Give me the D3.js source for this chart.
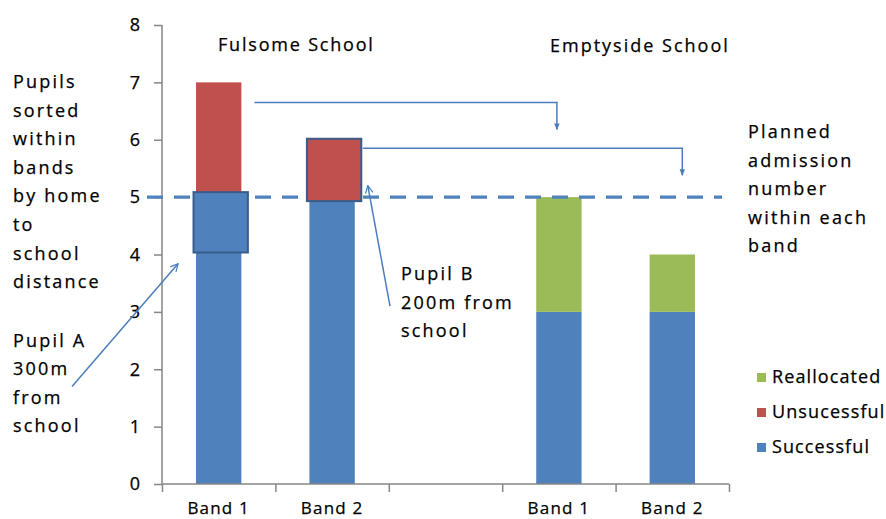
<!DOCTYPE html>
<html>
<head>
<meta charset="utf-8">
<script src="https://cdn.jsdelivr.net/npm/d3@7"></script>
<style>
  html, body { margin: 0; padding: 0; background: #fff; }
  svg { display: block; }
  text { font-family: "Open Sans", Lato, sans-serif; fill: #000; stroke: #000; stroke-width: 0.25px; }
</style>
</head>
<body>
<svg id="chart" width="886" height="519"></svg>
<script>
// Admission bands for the two schools (blank slot separates the schools)
const categoryIds    = ["f1", "f2", "gap", "e1", "e2"];
const categoryLabels = ["Band 1", "Band 2", "", "Band 1", "Band 2"];
const successful     = [5, 5, 0, 3, 3];
const unsuccessful   = [2, 1, 0, 0, 0];
const reallocated    = [0, 0, 0, 2, 1];
const seriesNames    = ["Successful", "Unsucessful", "Reallocated"];
const seriesColors   = ["#4f81bd", "#c0504d", "#9bbb59"];
const yTicks         = [0, 1, 2, 3, 4, 5, 6, 7, 8];
const admissionLimit = 5;
const schoolNames    = ["Fulsome School", "Emptyside School"];

// Highlighted pupils: category index and the slot they occupy in the stack
const pupilA = { cat: 0, from: 4, to: 5 };
const pupilB = { cat: 1, from: 5, to: 6 };
// Where each unsuccessful band is offered a place at the other school
const transfers = [
  { from: 0, to: 3, level: 6.65 },
  { from: 1, to: 4, level: 5.85 }
];

const svg = d3.select("#chart");
const plotLeft = 162, plotRight = 729, plotTop = 25, plotBottom = 484;

const x = d3.scaleBand().domain(categoryIds).range([plotLeft, plotRight])
  .paddingInner(0.6).paddingOuter(0.3);
const y = d3.scaleLinear().domain([0, 8]).range([plotBottom, plotTop]);
const boundary = d3.scaleLinear().domain([0, categoryIds.length]).range([plotLeft, plotRight]);

const defs = svg.append("defs");
defs.append("marker").attr("id", "head").attr("viewBox", "0 0 10 10")
  .attr("refX", 9).attr("refY", 5).attr("markerWidth", 4.5).attr("markerHeight", 4.5)
  .attr("orient", "auto-start-reverse")
  .append("path").attr("d", "M0,1 L10,5 L0,9 Z").attr("fill", "#4a7ebb");
defs.append("marker").attr("id", "vhead").attr("viewBox", "0 0 12 12")
  .attr("refX", 11).attr("refY", 6).attr("markerWidth", 6).attr("markerHeight", 6)
  .attr("orient", "auto")
  .append("path").attr("d", "M1,1 L11,6 L1,11").attr("fill", "none")
  .attr("stroke", "#4a7ebb").attr("stroke-width", 1.6);

// Stacked bars
const rows = categoryIds.map((id, i) => ({
  id, Successful: successful[i], Unsucessful: unsuccessful[i], Reallocated: reallocated[i]
}));
const stack = d3.stack().keys(seriesNames)(rows);
svg.append("g").selectAll("g").data(stack).join("g")
  .attr("fill", (d, i) => seriesColors[i])
  .selectAll("rect").data(d => d.filter(p => p[1] > p[0])).join("rect")
  .attr("x", d => x(d.data.id))
  .attr("y", d => y(d[1]))
  .attr("width", x.bandwidth())
  .attr("height", d => y(d[0]) - y(d[1]));

// Axes
const axisColor = "#868686";
const yAxis = svg.append("g").attr("transform", `translate(${plotLeft},0)`)
  .call(d3.axisLeft(y).tickValues(yTicks).tickSize(8).tickPadding(14).tickFormat(d3.format("d")));
const xAxis = svg.append("g").attr("transform", `translate(0,${plotBottom})`)
  .call(d3.axisBottom(boundary).ticks(categoryIds.length).tickSize(8).tickFormat(""));
[yAxis, xAxis].forEach(g => {
  g.select(".domain").attr("stroke", axisColor).attr("stroke-width", 1.5);
  g.selectAll(".tick line").attr("stroke", axisColor).attr("stroke-width", 1.5);
});
yAxis.select(".domain").attr("d", `M0,${plotBottom}V${plotTop}`);
xAxis.select(".domain").attr("d", `M${plotLeft},0H${plotRight}`);
yAxis.selectAll(".tick text").attr("font-family", "Open Sans").attr("font-size", 18);

svg.append("g").selectAll("text").data(categoryIds.filter((d, i) => categoryLabels[i])).join("text")
  .attr("x", d => x(d) + x.bandwidth() / 2)
  .attr("y", 514)
  .attr("text-anchor", "middle")
  .attr("font-size", 17).attr("letter-spacing", 1.2)
  .text(d => categoryLabels[categoryIds.indexOf(d)]);

// Planned admission number line
svg.append("line")
  .attr("x1", plotLeft - 15).attr("x2", plotRight - 7)
  .attr("y1", y(admissionLimit)).attr("y2", y(admissionLimit))
  .attr("stroke", "#4f81bd").attr("stroke-width", 3.2)
  .attr("stroke-dasharray", "16 11");

// Outlined boxes for the two example pupils
function pupilBox(p, color, pad) {
  svg.append("rect")
    .attr("x", x(categoryIds[p.cat]) - 2.5)
    .attr("y", y(p.to) - pad[0])
    .attr("width", x.bandwidth() + 9)
    .attr("height", y(p.from) - y(p.to) + pad[0] + pad[1])
    .attr("fill", color).attr("stroke", "#385d8a").attr("stroke-width", 2);
}
pupilBox(pupilA, seriesColors[0], [5, -2]);
pupilBox(pupilB, seriesColors[1], [1, 4]);

// Transfer connectors
const connector = svg.append("g").attr("fill", "none").attr("stroke", "#4a7ebb").attr("stroke-width", 1.5);
transfers.forEach((t, i) => {
  const x0 = x(categoryIds[t.from]) + x.bandwidth() + (i === 0 ? 13 : 8);
  const x1 = x(categoryIds[t.to]) + x.bandwidth() / 2 + (i === 0 ? -2 : 10);
  const yy = y(t.level);
  connector.append("path")
    .attr("d", `M${x0},${yy}H${x1}V${yy + 27}`)
    .attr("marker-end", "url(#head)");
});

// Pointer arrows to the example pupils
connector.append("path")
  .attr("d", `M72,${y(1.7)}L${x(categoryIds[pupilA.cat]) - 18},${y(3.84)}`)
  .attr("marker-end", "url(#vhead)");
connector.append("path")
  .attr("d", `M390,${y(3.1)}L${x(categoryIds[pupilB.cat]) + x.bandwidth() + 13},${y(5.2)}`)
  .attr("marker-end", "url(#vhead)");

// Text blocks
function block(lines, x0, y0, step) {
  const t = svg.append("text").attr("font-size", 18).attr("letter-spacing", 2.2);
  lines.forEach((l, i) => t.append("tspan").attr("x", x0).attr("y", y0 + i * step).text(l));
}
block(["Pupils", "sorted", "within", "bands", "by home", "to", "school", "distance"], 13, 88, 28.6);
block(["Pupil A", "300m", "from", "school"], 13, 347, 28.4);
block(["Pupil B", "200m from", "school"], 401, 280, 28.5);
block(["Planned", "admission", "number", "within each", "band"], 748, 138, 28.5);

svg.append("text").attr("x", 218).attr("y", 51).attr("font-size", 18).attr("letter-spacing", 1.8)
  .text(schoolNames[0]);
svg.append("text").attr("x", 550).attr("y", 52).attr("font-size", 18).attr("letter-spacing", 2)
  .text(schoolNames[1]);

// Legend
const legendOrder = [2, 1, 0];
const legend = svg.append("g");
legendOrder.forEach((s, i) => {
  const ly = 383 + i * 35;
  legend.append("rect").attr("x", 757).attr("y", ly - 10).attr("width", 9).attr("height", 9)
    .attr("fill", seriesColors[s]);
  legend.append("text").attr("x", 772).attr("y", ly).attr("font-size", 18).attr("letter-spacing", 1.1)
    .text(seriesNames[s]);
});
</script>
</body>
</html>
